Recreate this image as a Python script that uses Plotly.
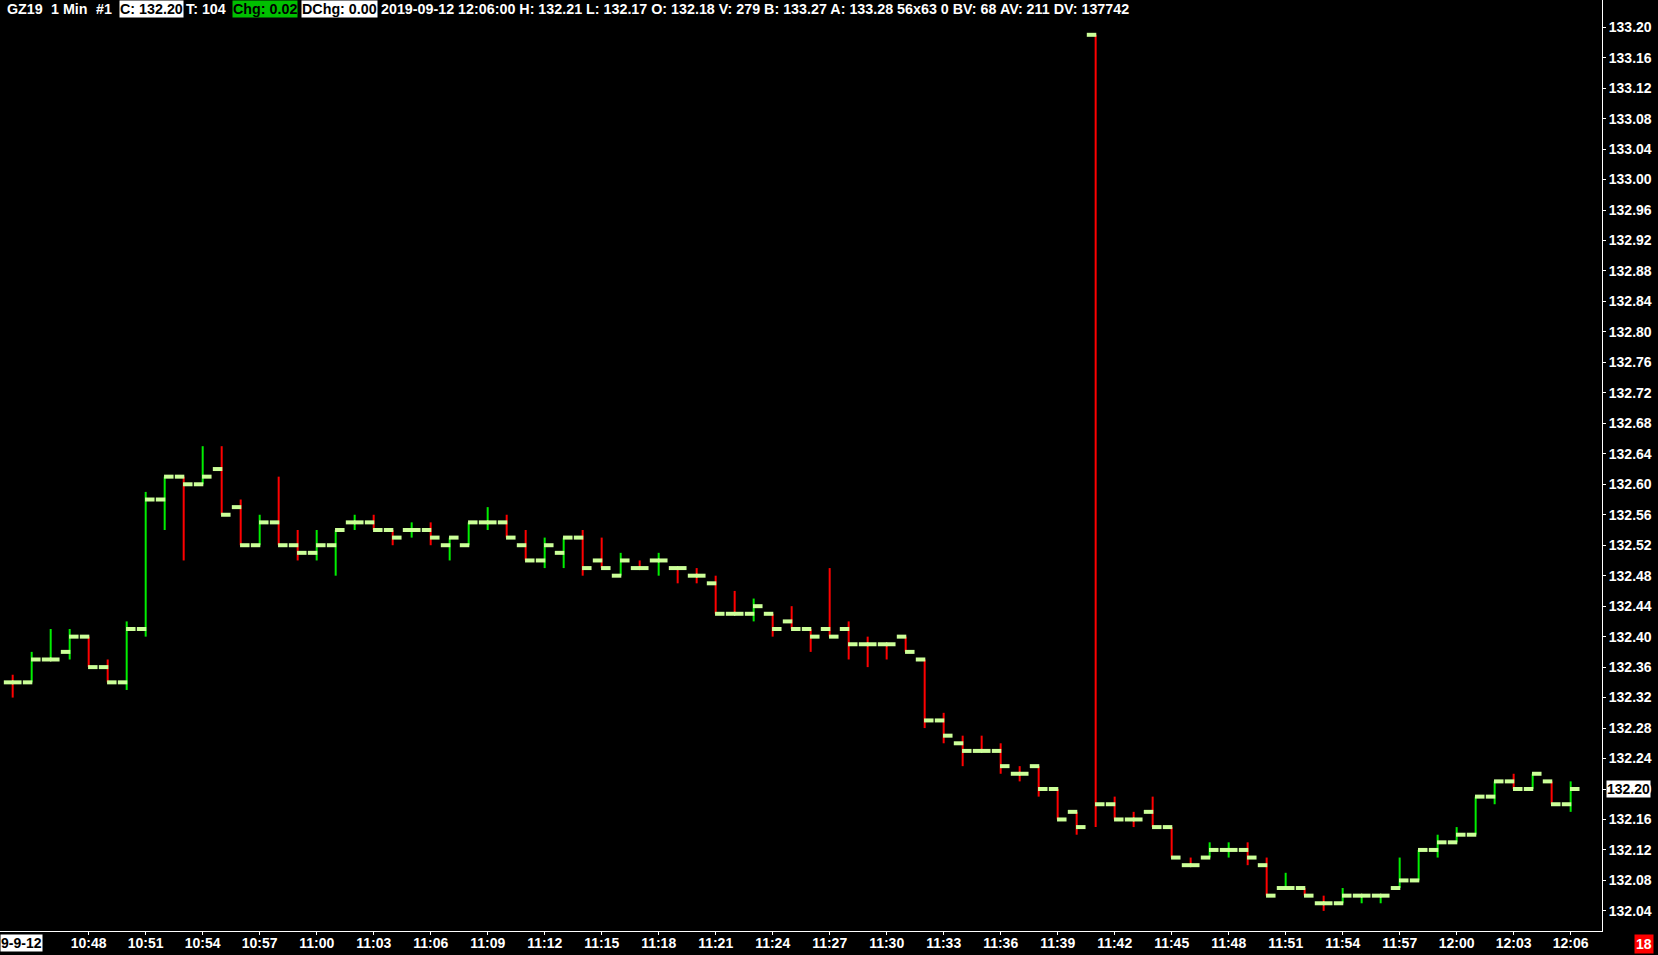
import pandas as pd
import plotly.graph_objects as go

# ---------------- data (1-minute bars, 10:44 .. 12:06) ----------------
start_time = "2019-09-12 10:44:00"
opens = [132.34, 132.34, 132.37, 132.38, 132.40, 132.36, 132.34, 132.41, 132.58, 132.61,
         132.60, 132.62, 132.57, 132.52, 132.55, 132.52, 132.51, 132.52, 132.55, 132.55,
         132.54, 132.54, 132.54, 132.52, 132.52, 132.55, 132.55, 132.52, 132.50, 132.51,
         132.53, 132.50, 132.48, 132.49, 132.50, 132.49, 132.48, 132.47, 132.43, 132.43,
         132.43, 132.42, 132.41, 132.41, 132.41, 132.39, 132.39, 132.40, 132.37, 132.29,
         132.26, 132.25, 132.25, 132.22, 132.23, 132.20, 132.17, 133.19, 132.18, 132.16,
         132.17, 132.15, 132.10, 132.11, 132.12, 132.12, 132.10, 132.07, 132.07, 132.05,
         132.05, 132.06, 132.06, 132.07, 132.08, 132.12, 132.13, 132.14, 132.19, 132.21,
         132.20, 132.21, 132.18]
highs = [132.35, 132.38, 132.41, 132.41, 132.40, 132.37, 132.42, 132.59, 132.61, 132.61,
         132.65, 132.65, 132.58, 132.56, 132.61, 132.54, 132.54, 132.54, 132.56, 132.56,
         132.54, 132.55, 132.55, 132.53, 132.55, 132.57, 132.56, 132.54, 132.53, 132.53,
         132.54, 132.53, 132.51, 132.50, 132.51, 132.49, 132.49, 132.48, 132.46, 132.45,
         132.43, 132.44, 132.41, 132.49, 132.42, 132.40, 132.39, 132.40, 132.37, 132.30,
         132.27, 132.27, 132.26, 132.23, 132.23, 132.20, 132.17, 133.19, 132.19, 132.17,
         132.19, 132.15, 132.11, 132.13, 132.13, 132.13, 132.11, 132.09, 132.07, 132.06,
         132.07, 132.06, 132.06, 132.11, 132.12, 132.14, 132.15, 132.19, 132.21, 132.22,
         132.22, 132.21, 132.21]
lows = [132.32, 132.34, 132.37, 132.37, 132.36, 132.34, 132.33, 132.40, 132.54, 132.50,
        132.60, 132.56, 132.52, 132.52, 132.52, 132.50, 132.50, 132.48, 132.54, 132.54,
        132.52, 132.53, 132.52, 132.50, 132.52, 132.54, 132.53, 132.50, 132.49, 132.49,
        132.48, 132.49, 132.48, 132.49, 132.48, 132.47, 132.47, 132.43, 132.43, 132.42,
        132.40, 132.41, 132.38, 132.40, 132.37, 132.36, 132.37, 132.38, 132.28, 132.26,
        132.23, 132.25, 132.22, 132.21, 132.19, 132.16, 132.14, 132.15, 132.16, 132.15,
        132.15, 132.11, 132.10, 132.11, 132.11, 132.10, 132.06, 132.07, 132.06, 132.04,
        132.05, 132.05, 132.05, 132.07, 132.08, 132.11, 132.13, 132.14, 132.18, 132.20,
        132.20, 132.18, 132.17]
closes = [132.34, 132.37, 132.37, 132.40, 132.36, 132.34, 132.41, 132.58, 132.61, 132.60,
          132.61, 132.56, 132.52, 132.55, 132.52, 132.51, 132.52, 132.54, 132.55, 132.54,
          132.53, 132.54, 132.53, 132.53, 132.55, 132.55, 132.53, 132.50, 132.52, 132.53,
          132.49, 132.49, 132.50, 132.49, 132.50, 132.49, 132.48, 132.43, 132.43, 132.44,
          132.41, 132.41, 132.40, 132.40, 132.39, 132.39, 132.39, 132.38, 132.29, 132.27,
          132.25, 132.25, 132.23, 132.22, 132.20, 132.16, 132.15, 132.18, 132.16, 132.16,
          132.15, 132.11, 132.10, 132.12, 132.12, 132.11, 132.06, 132.07, 132.06, 132.05,
          132.06, 132.06, 132.06, 132.08, 132.12, 132.13, 132.14, 132.19, 132.21, 132.20,
          132.22, 132.18, 132.20]
times = list(pd.date_range(start_time, periods=len(opens), freq="min"))
first_time_label = "2019-09-12 10:48:00"

header_left = ["GZ19", "1 Min", "#1"]
header_close = "C: 132.20"
header_ticks = "T: 104"
header_chg = "Chg: 0.02"
header_dchg = "DChg: 0.00"
header_rest = ("2019-09-12 12:06:00 H: 132.21 L: 132.17 O: 132.18 V: 279 B: 133.27 "
               "A: 133.28 56x63 0 BV: 68 AV: 211 DV: 137742")
date_label = "9-9-12"
counter_label = "18"

# ---------------- styling ----------------
UP = "#00ee00"
DOWN = "#ff0000"
TICK = "#ccff99"
FONT = "Liberation Sans, Arial, sans-serif"
W, H = 1658, 955
ML, MR, MT, MB = 0, 56, 0, 24
PW = W - ML - MR

# bar direction (close vs open, ties resolved by prior close, then prior colour)
dirs = []
prev = -1
for i, (o, c) in enumerate(zip(opens, closes)):
    if c > o:
        d = 1
    elif c < o:
        d = -1
    elif i > 0 and c > closes[i - 1]:
        d = 1
    elif i > 0 and c < closes[i - 1]:
        d = -1
    else:
        d = prev
    dirs.append(d)
    prev = d

half = pd.Timedelta(seconds=28)
eps = pd.Timedelta(seconds=2)

ux, uy, dx, dy, tx, ty = [], [], [], [], [], []
for t, o, h, l, c, d in zip(times, opens, highs, lows, closes, dirs):
    if d > 0:
        ux += [t, t, None]
        uy += [h, l, None]
    else:
        dx += [t, t, None]
        dy += [h, l, None]
    tx += [t - half, t + eps, None, t - eps, t + half, None]
    ty += [o, o, None, c, c, None]

fig = go.Figure()
fig.add_trace(go.Scatter(x=ux, y=uy, mode="lines", line=dict(color=UP, width=2),
                         hoverinfo="skip"))
fig.add_trace(go.Scatter(x=dx, y=dy, mode="lines", line=dict(color=DOWN, width=2),
                         hoverinfo="skip"))
fig.add_trace(go.Scatter(x=tx, y=ty, mode="lines", line=dict(color=TICK, width=4),
                         hoverinfo="skip"))

t0 = times[0]
x_range = [t0 - pd.Timedelta(minutes=0.668), t0 + pd.Timedelta(minutes=83.65)]
y_range = [132.0136, 133.2357]

first_tick = pd.Timestamp(first_time_label)
tick_times = [t for t in times if t >= first_tick and (t - first_tick).seconds % 180 == 0]

axis_font = dict(family=FONT, size=14, color="white", weight="bold")

fig.update_layout(
    width=W, height=H,
    margin=dict(l=ML, r=MR, t=MT, b=MB),
    paper_bgcolor="black", plot_bgcolor="black",
    showlegend=False, hovermode=False,
    xaxis=dict(type="date", range=x_range, tickformat="%H:%M",
               tickvals=tick_times,
               showgrid=False, zeroline=False, showline=True,
               linecolor="white", linewidth=1, ticks="outside", ticklen=3,
               tickcolor="white", tickfont=axis_font, ticklabelstandoff=-4),
    yaxis=dict(side="right", range=y_range, dtick=0.04, tick0=132.04,
               tickformat=".2f", showgrid=False, zeroline=False, showline=True,
               linecolor="white", linewidth=1, ticks="outside", ticklen=3,
               tickcolor="white", tickfont=axis_font),
)

hfont = dict(family=FONT, size=14.3, color="white", weight="bold")
bfont = dict(family=FONT, size=14.3, color="black", weight="bold")
afont = dict(family=FONT, size=14, color="black", weight="bold")


def px(x):
    return (x - ML) / PW


anns = []
for text, x in zip(header_left, [6, 50, 95]):
    anns.append(dict(text=text, x=px(x), y=1, xref="paper", yref="paper",
                     xanchor="left", yanchor="top", showarrow=False, font=hfont,
                     borderpad=0))
anns.append(dict(text=header_close, x=px(119), y=1, xref="paper", yref="paper",
                 xanchor="left", yanchor="top", showarrow=False, font=bfont,
                 bgcolor="white", borderpad=0))
anns.append(dict(text=header_ticks, x=px(185), y=1, xref="paper", yref="paper",
                 xanchor="left", yanchor="top", showarrow=False, font=hfont,
                 borderpad=0))
anns.append(dict(text=header_chg, x=px(232), y=1, xref="paper", yref="paper",
                 xanchor="left", yanchor="top", showarrow=False, font=bfont,
                 bgcolor="#00c000", borderpad=0))
anns.append(dict(text=header_dchg, x=px(301), y=1, xref="paper", yref="paper",
                 xanchor="left", yanchor="top", showarrow=False, font=bfont,
                 bgcolor="white", borderpad=0))
anns.append(dict(text=header_rest, x=px(380), y=1, xref="paper", yref="paper",
                 xanchor="left", yanchor="top", showarrow=False, font=hfont,
                 borderpad=0))
# current price marker on right axis
anns.append(dict(text=f"{closes[-1]:.2f}", x=1, y=closes[-1], xref="paper", yref="y",
                 xanchor="left", yanchor="middle", xshift=4, showarrow=False,
                 font=afont, bgcolor="white", borderpad=0))
# date label bottom-left
anns.append(dict(text=date_label, x=0, y=0, xref="paper", yref="paper",
                 xanchor="left", yanchor="top", yshift=-3, showarrow=False,
                 font=afont, bgcolor="white", borderpad=0))
# counter bottom-right
anns.append(dict(text=counter_label, x=px(1634), y=0, xref="paper", yref="paper",
                 xanchor="left", yanchor="top", yshift=-3, showarrow=False,
                 font=dict(family=FONT, size=14, color="white", weight="bold"),
                 bgcolor="#ff0000", borderpad=1))
fig.update_layout(annotations=anns)

fig.write_html("out.html", config={"displayModeBar": False},
               post_script="document.body.style.margin='0';"
                           "document.body.style.background='black';")
